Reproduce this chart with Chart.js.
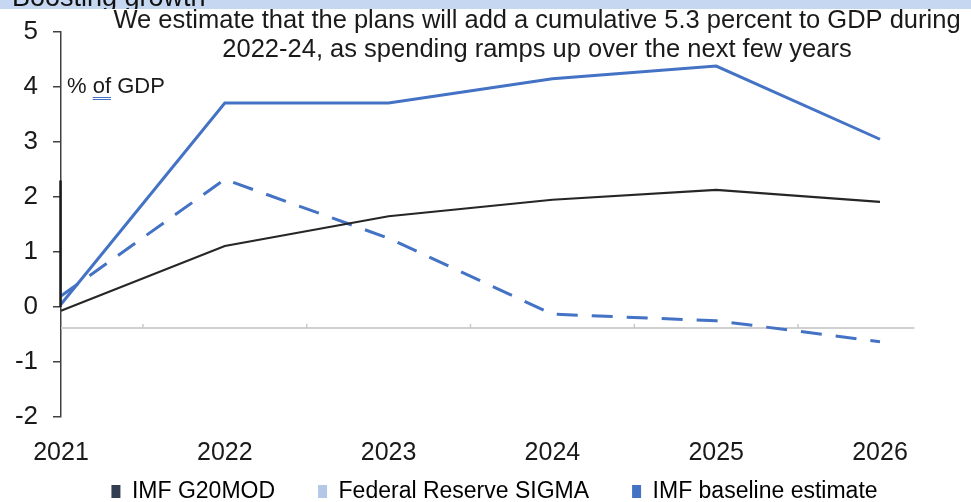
<!DOCTYPE html>
<html>
<head>
<meta charset="utf-8">
<script src="https://cdn.jsdelivr.net/npm/chart.js@4.4.1/dist/chart.umd.min.js"></script>
<style>
  html, body { margin: 0; padding: 0; background: #fff; }
  #wrap { width: 971px; height: 502px; position: relative; }
</style>
</head>
<body>
<div id="wrap"><canvas id="growthChart"></canvas></div>
<script>
  // Data
  const years = ["2021", "2022", "2023", "2024", "2025", "2026"];
  const g20mod = [-0.07, 1.11, 1.65, 1.95, 2.13, 1.91];
  const fedSigma = [0.2, 2.32, 1.25, -0.13, -0.25, -0.63];
  const imfBaseline = [0.05, 3.71, 3.71, 4.15, 4.38, 3.05];
  const yTicks = [-2, -1, 0, 1, 2, 3, 4, 5];
  const seriesNames = ["IMF G20MOD", "Federal Reserve SIGMA", "IMF baseline estimate"];
  const legendColors = ["#333f50", "#b4c7e7", "#4472c4"];
  const oldAxisValue = -0.38;

  const FONT = "'Liberation Sans', Arial, sans-serif";

  // Extra drawing: header band, subtitle, unit label, old zero line
  const decorations = {
    id: 'decorations',
    afterLayout(chart) {
      // legend sits a bit higher and right of where the layout puts it
      const lg = chart.legend;
      lg.top -= 28;
      lg.left += 9; lg.right += 9;
    },
    beforeDatasetsDraw(chart) {
      const { ctx, scales: { x, y } } = chart;
      const yy = y.getPixelForValue(oldAxisValue);
      const x0 = x.getPixelForValue(0);
      const xEnd = x.getPixelForValue(years.length - 1 + 0.21);
      ctx.save();
      ctx.strokeStyle = '#d0d0d0';
      ctx.lineWidth = 2;
      ctx.beginPath();
      ctx.moveTo(x0, yy);
      ctx.lineTo(xEnd, yy);
      ctx.stroke();
      ctx.strokeStyle = '#c8c8c8';
      ctx.lineWidth = 1.5;
      for (let i = 0; i < years.length - 1; i++) {
        const xm = x.getPixelForValue(i + 0.5);
        ctx.beginPath();
        ctx.moveTo(xm, yy);
        ctx.lineTo(xm, yy - 4);
        ctx.stroke();
      }
      ctx.restore();
    },
    afterDraw(chart) {
      const { ctx, scales: { y } } = chart;
      const area = chart.chartArea;
      ctx.save();
      // header band, cut off at top
      ctx.fillStyle = '#c6d7f2';
      ctx.fillRect(0, 0, chart.width, 9);
      ctx.beginPath();
      ctx.rect(0, 0, chart.width, 9);
      ctx.clip();
      ctx.fillStyle = '#111';
      ctx.font = '27px ' + FONT;
      ctx.textBaseline = 'alphabetic';
      ctx.fillText('Boosting growth', 12, 6);
      ctx.restore();

      ctx.save();
      // darker bit on the axis
      ctx.strokeStyle = '#1a1a1a';
      ctx.lineWidth = 2.5;
      ctx.beginPath();
      ctx.moveTo(area.left - 0.5, y.getPixelForValue(2.3));
      ctx.lineTo(area.left - 0.5, y.getPixelForValue(0));
      ctx.stroke();

      // subtitle
      ctx.fillStyle = '#1a1a1a';
      ctx.font = '25.5px ' + FONT;
      ctx.textAlign = 'center';
      ctx.textBaseline = 'middle';
      ctx.fillText('We estimate that the plans will add a cumulative 5.3 percent to GDP during', 537, 21);
      ctx.fillText('2022-24, as spending ramps up over the next few years', 537, 50);

      // unit label
      ctx.font = '22px ' + FONT;
      ctx.textAlign = 'left';
      const ly = y.getPixelForValue(4);
      const lx = area.left + 6;
      ctx.fillText('% of GDP', lx, ly);
      const w1 = ctx.measureText('% ').width;
      const w2 = ctx.measureText('of').width;
      ctx.strokeStyle = '#4472c4';
      ctx.lineWidth = 1;
      [10.5, 12.5].forEach(d => {
        ctx.beginPath();
        ctx.moveTo(lx + w1, ly + d);
        ctx.lineTo(lx + w1 + w2, ly + d);
        ctx.stroke();
      });
      ctx.restore();
    }
  };

  const ctx = document.getElementById('growthChart').getContext('2d');

  const growthChart = new Chart(ctx, {
    type: 'line',
    data: {
      labels: years,
      datasets: [{
        label: seriesNames[0],
        data: g20mod,
        borderColor: '#262626',
        backgroundColor: legendColors[0],
        borderWidth: 2.2,
        pointRadius: 0,
        tension: 0
      }, {
        label: seriesNames[1],
        data: fedSigma,
        borderColor: '#4472c4',
        backgroundColor: legendColors[1],
        borderWidth: 3,
        borderDash: [21, 14],
        pointRadius: 0,
        tension: 0
      }, {
        label: seriesNames[2],
        data: imfBaseline,
        borderColor: '#4472c4',
        backgroundColor: legendColors[2],
        borderWidth: 3,
        pointRadius: 0,
        tension: 0
      }]
    },
    options: {
      responsive: true,
      maintainAspectRatio: false,
      animation: false,
      layout: { padding: { top: 32, right: 0, left: 0, bottom: 0 } },
      plugins: {
        title: { display: false },
        tooltip: { enabled: false },
        legend: {
          display: true,
          position: 'bottom',
          maxHeight: 37,
          labels: {
            color: '#1a1a1a',
            font: { family: FONT, size: 23 },
            boxWidth: 9,
            boxHeight: 13,
            padding: 43,
            generateLabels: (chart) => seriesNames.map((name, i) => ({
              text: name,
              fillStyle: legendColors[i],
              strokeStyle: legendColors[i],
              lineWidth: 0,
              hidden: false,
              datasetIndex: i
            }))
          }
        }
      },
      scales: {
        x: {
          offset: false,
          grid: { display: false, drawTicks: false },
          border: { display: false },
          ticks: { color: '#1a1a1a', font: { family: FONT, size: 25 }, padding: 21, maxRotation: 0 },
          afterFit: (scale) => { scale.height = 48; }
        },
        y: {
          min: -2,
          max: 5,
          afterBuildTicks: (scale) => { scale.ticks = yTicks.map(v => ({ value: v })); },
          grid: { drawOnChartArea: false, drawTicks: true, tickLength: 8, color: '#404040', lineWidth: 1.5 },
          border: { display: true, color: '#404040', width: 1.5 },
          ticks: { color: '#1a1a1a', font: { family: FONT, size: 26 }, padding: 15 },
          afterFit: (scale) => { scale.width = 61; }
        },
        // empty spacer on the right so the lines stop short of the edge
        spacer: {
          type: 'linear',
          position: 'right',
          display: true,
          grid: { display: false },
          border: { display: false },
          ticks: { display: false },
          afterFit: (scale) => { scale.width = 91; }
        }
      }
    },
    plugins: [decorations]
  });
</script>
</body>
</html>
